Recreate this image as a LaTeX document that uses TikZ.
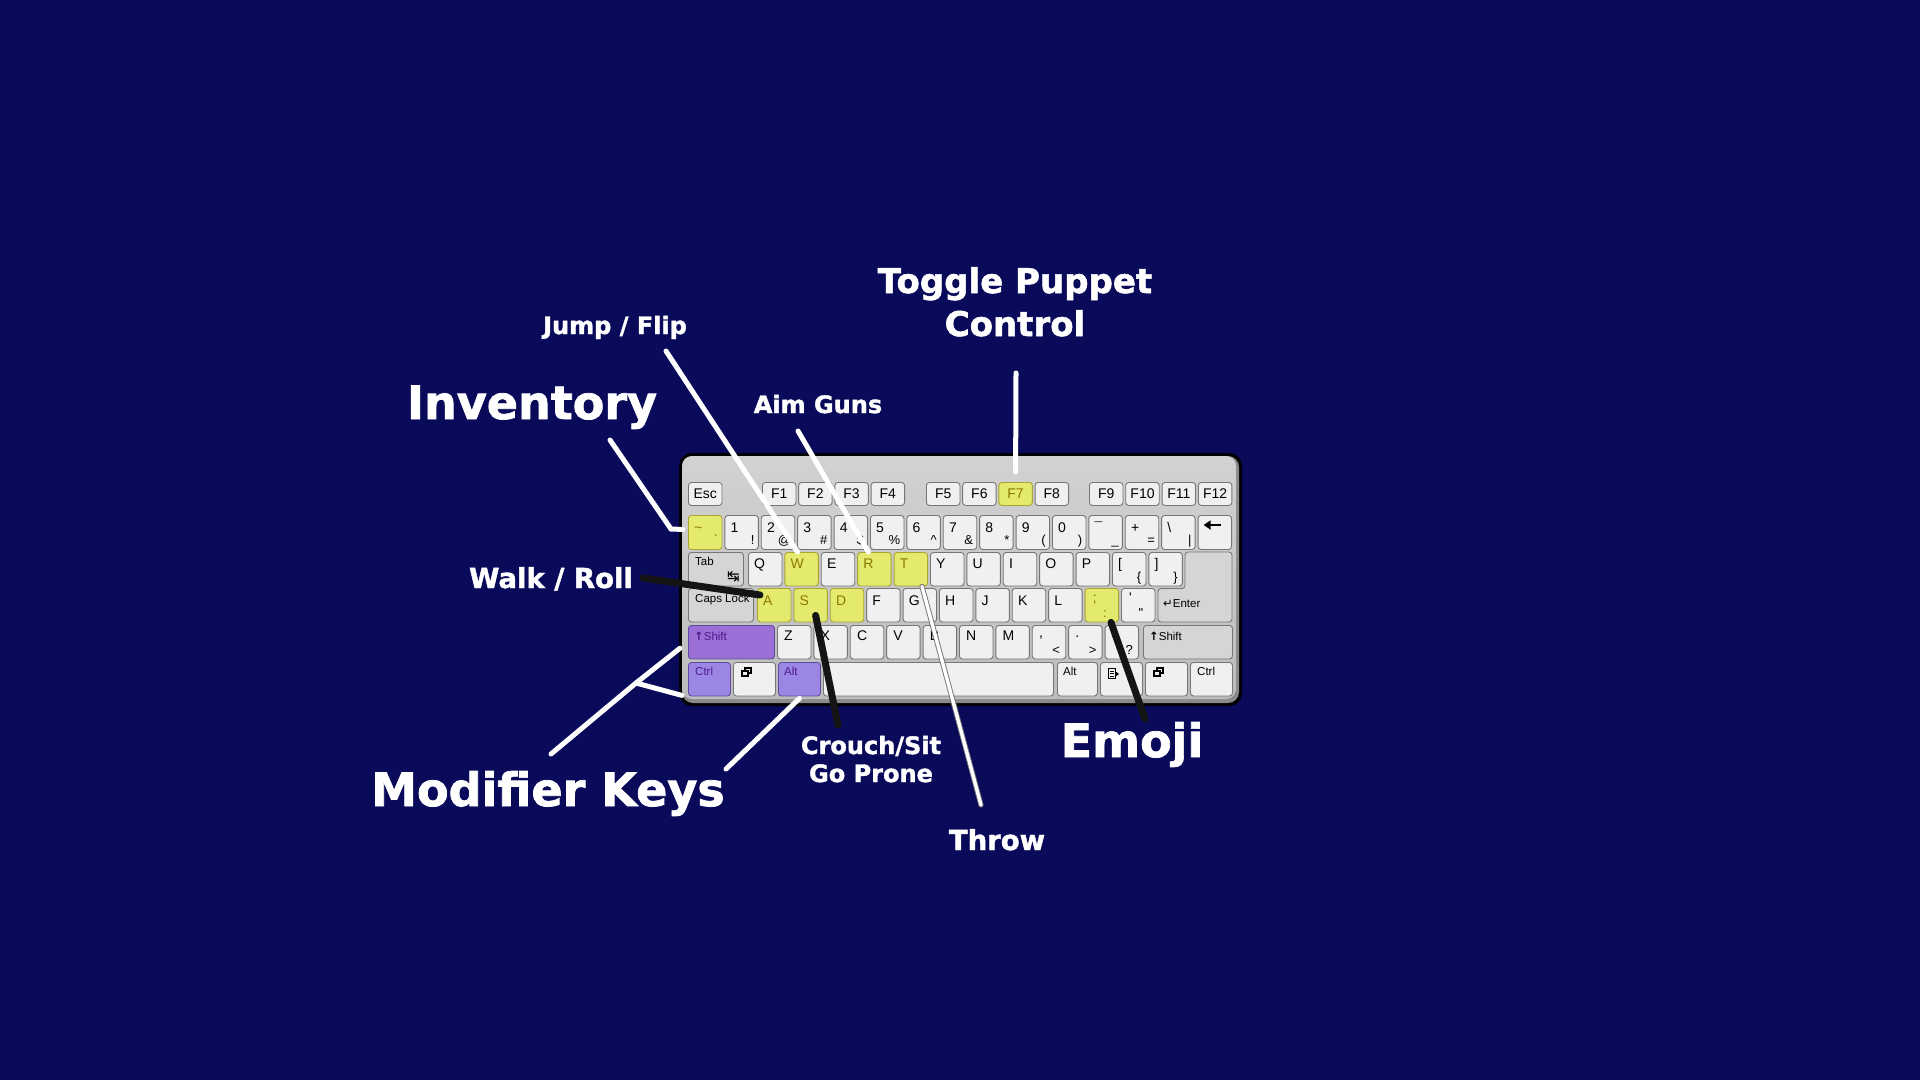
\documentclass[tikz,border=0pt]{standalone}
\usepackage{fontspec}
\setmainfont{Liberation Sans}
\newfontfamily\callfont{DejaVu Sans}[BoldFeatures={FakeBold=1.6}]
\newfontfamily\symfont{DejaVu Sans}
\usetikzlibrary{positioning,calc,arrows.meta}
\definecolor{navy}{HTML}{0A0A5A}
\definecolor{bodytop}{HTML}{D2D2D2}
\definecolor{bodybot}{HTML}{BCBCBC}
\definecolor{rimgray}{HTML}{8A8A8A}
\definecolor{keyface}{HTML}{F0F0F0}
\definecolor{keyedge}{HTML}{767676}
\definecolor{grayface}{HTML}{D5D5D5}
\definecolor{hlfill}{HTML}{E4EA6E}
\definecolor{hledge}{HTML}{ABA433}
\definecolor{hltext}{HTML}{8A7800}
\definecolor{modfill}{HTML}{9C86E4}
\definecolor{shiftfill}{HTML}{9A70D6}
\definecolor{modedge}{HTML}{5E4A9E}
\definecolor{modtext}{HTML}{4E1A8E}
\newcommand{\cfs}[1]{\fontsize{#1}{#1}\selectfont}
\newcommand{\winicon}[1]{%
  \draw[line width=1.1pt] ([shift={(12pt,-6pt)}]#1.north west) rectangle ([shift={(18pt,-11pt)}]#1.north west);
  \draw[line width=1.1pt,fill=keyface] ([shift={(9pt,-9pt)}]#1.north west) rectangle ([shift={(15pt,-14pt)}]#1.north west);}

\begin{document}
\begin{tikzpicture}[x=1pt,y=-1pt,
    every node/.style={inner sep=0pt},
    keybox/.style={draw=keyedge,fill=keyface,line width=0.9pt,rounded corners=3pt,anchor=north west,
      minimum width=33.5pt,minimum height=33.5pt,text=black,font=\cfs{14}},
    khl/.style={keybox,fill=hlfill,draw=hledge,text=hltext},
    kmod/.style={keybox,fill=modfill,draw=modedge,text=modtext},
    kgray/.style={keybox,fill=grayface},
    keybox-t/.style={text=black},
    khl-t/.style={text=hltext},
    kmod-t/.style={text=modtext},
    ktop/.style={anchor=base west,font=\cfs{14}},
    ksub/.style={anchor=base east,font=\cfs{13}},
    kname/.style={anchor=base west,font=\cfs{11.5}},
    callbig/.style={anchor=base,text=white,font=\callfont\bfseries\cfs{46}},
    callmid/.style={anchor=base,text=white,font=\callfont\bfseries\cfs{34}},
    callwalk/.style={anchor=base,text=white,font=\callfont\bfseries\cfs{27.5}},
    callsmall/.style={anchor=base,text=white,font=\callfont\bfseries\cfs{24}},
    callw/.style={draw=white,line width=5pt,line cap=round},
    callb/.style={draw=black!92,line width=7pt,line cap=round},
    callt/.style={draw=black!55,double=white,double distance=3.4pt,line width=0.9pt,line cap=round},
  ]
  \fill[navy] (0,0) rectangle (1920,1080);
  \useasboundingbox (0,0) rectangle (1920,1080);

  % keyboard body
  \fill[black,rounded corners=13pt] (679,453) rectangle (1242,706);
  \fill[rimgray,rounded corners=11pt] (682,456) rectangle (1239,703);
  \shade[top color=bodytop,bottom color=bodybot,rounded corners=10pt] (682,456) rectangle (1236,699);

  % function row
  \node[keybox,minimum height=23pt] (esc) at (688,482) {Esc};
  \foreach \kl [count=\i from 0] in {1,...,4}
    \node[keybox,minimum height=23pt] (f\kl) at (762+\i*36.2,482) {F\kl};
  \foreach \kl/\kst [count=\i from 0] in {5/keybox,6/keybox,7/khl,8/keybox}
    \node[\kst,minimum height=23pt] (f\kl) at (926+\i*36.2,482) {F\kl};
  \foreach \kl [count=\i from 0] in {9,...,12}
    \node[keybox,minimum height=23pt] (f\kl) at (1089+\i*36.3,482) {F\kl};

  % number row
  \foreach \kl/\ks/\kst [count=\i from 0] in {{\textasciitilde}/{\textasciigrave}/khl,1/!/keybox,2/@/keybox,
      3/\#/keybox,4/\$/keybox,5/\%/keybox,6/\textasciicircum/keybox,7/\&/keybox,8/*/keybox,9/(/keybox,
      0/)/keybox,{\textasciimacron}/\_/keybox,+/=/keybox,\textbackslash/\textbar/keybox}{
    \node[\kst,minimum height=34pt] (n\i) at (688+\i*36.4,515) {};
    \node[ktop,\kst-t] at ([shift={(6pt,-17pt)}]n\i.north west) {\kl};
    \node[ksub,\kst-t] at ([shift={(-4pt,5pt)}]n\i.south east) {\ks};
  }
  \node[keybox,minimum height=34pt] (bksp) at (1197.6,515) {};
  \draw[line width=2.6pt,-{Triangle[length=7pt,width=9pt]}] ([shift={(23pt,-10pt)}]bksp.north west) -- ([shift={(6pt,-10pt)}]bksp.north west);

  % tab row
  \node[kgray,minimum width=55pt] (tab) at (688,552) {};
  \node[kname] (tabtxt) at ([shift={(7pt,-13pt)}]tab.north west) {Tab};
  \node[anchor=base east,font=\symfont\cfs{15}] (tabicon) at ([shift={(-4pt,5pt)}]tab.south east) {↹};
  \foreach \kl/\kst [count=\i from 0] in {Q/keybox,W/khl,E/keybox,R/khl,T/khl,Y/keybox,U/keybox,I/keybox,O/keybox,P/keybox}{
    \node[\kst] (q\i) at (748+\i*36.4,552) {};
    \node[ktop,\kst-t] at ([shift={(6pt,-16pt)}]q\i.north west) {\kl};
  }
  \foreach \kl/\ks [count=\i from 10] in {{[}/{\{},{]}/{\}}}{
    \node[keybox] (q\i) at (748+\i*36.4,552) {};
    \node[ktop] at ([shift={(6pt,-16pt)}]q\i.north west) {\kl};
    \node[ksub] at ([shift={(-5pt,5pt)}]q\i.south east) {\ks};
  }
  \draw[draw=keyedge,fill=grayface,line width=0.9pt,rounded corners=3pt]
    (1185,552) -- (1232,552) -- (1232,622) -- (1158,622) -- (1158,588.5) -- (1185,588.5) -- cycle;

  % caps row
  \node[kgray,minimum width=65pt] (caps) at (688,588) {};
  \node[kname] (capstxt) at ([shift={(7pt,-14pt)}]caps.north west) {Caps Lock};
  \foreach \kl/\kst [count=\i from 0] in {A/khl,S/khl,D/khl,F/keybox,G/keybox,H/keybox,J/keybox,K/keybox,L/keybox}{
    \node[\kst] (a\i) at (757+\i*36.4,588) {};
    \node[ktop,\kst-t] at ([shift={(6pt,-17pt)}]a\i.north west) {\kl};
  }
  \foreach \kl/\ks/\kst [count=\i from 9] in {{;}/{:}/khl,{\textquotesingle}/{\textquotedbl}/keybox}{
    \node[\kst] (a\i) at (757+\i*36.4,588) {};
    \node[ktop,\kst-t] at ([shift={(8pt,-14pt)}]a\i.north west) {\kl};
    \node[ksub,\kst-t] at ([shift={(-12pt,5pt)}]a\i.south east) {\ks};
  }
  \node[kname] (entertxt) at (1163,607) {{\symfont ↵}Enter};

  % shift row
  \node[kmod,fill=shiftfill,minimum width=86pt] (lshift) at (688,625) {};
  \node[kname,kmod-t] (lshifttxt) at ([shift={(6pt,-15pt)}]lshift.north west) {{\symfont\bfseries ↑}Shift};
  \foreach \kl [count=\i from 0] in {Z,X,C,V,B,N,M}{
    \node[keybox] (z\i) at (777+\i*36.4,625) {};
    \node[ktop] at ([shift={(7pt,-15pt)}]z\i.north west) {\kl};
  }
  \foreach \kl/\ks [count=\i from 7] in {{,}/{<},{.}/{>},{/}/{?}}{
    \node[keybox] (z\i) at (777+\i*36.4,625) {};
    \node[ktop] at ([shift={(7pt,-12pt)}]z\i.north west) {\kl};
    \node[ksub] at ([shift={(-6pt,5pt)}]z\i.south east) {\ks};
  }
  \node[kgray,minimum width=89pt] (rshift) at (1143,625) {};
  \node[kname] (rshifttxt) at ([shift={(6pt,-15pt)}]rshift.north west) {{\symfont\bfseries ↑}Shift};

  % bottom row
  \node[kmod,minimum width=42pt] (lctrl) at (688,662) {};
  \node[kname,kmod-t] (lctrltxt) at ([shift={(7pt,-13pt)}]lctrl.north west) {Ctrl};
  \node[keybox,minimum width=42pt] (lwin) at (733,662) {};
  \winicon{lwin}
  \node[kmod,minimum width=42pt] (lalt) at (778,662) {};
  \node[kname,kmod-t] (lalttxt) at ([shift={(6pt,-13pt)}]lalt.north west) {Alt};
  \node[keybox,minimum width=230pt] (space) at (823,662) {};
  \node[keybox,minimum width=40pt] (ralt) at (1057,662) {};
  \node[kname] (ralttxt) at ([shift={(6pt,-13pt)}]ralt.north west) {Alt};
  \node[keybox,minimum width=42pt] (menu) at (1100,662) {};
  \draw[line width=0.9pt] ([shift={(8pt,-6pt)}]menu.north west) rectangle ([shift={(15pt,-16pt)}]menu.north west);
  \foreach \k in {9,11.5,14}
    \draw[line width=0.8pt] ([shift={(9.5pt,-\k pt)}]menu.north west) -- ([shift={(13.5pt,-\k pt)}]menu.north west);
  \fill ([shift={(15pt,-9pt)}]menu.north west) -- ([shift={(19pt,-12pt)}]menu.north west) -- ([shift={(15pt,-15pt)}]menu.north west) -- cycle;
  \node[keybox,minimum width=42pt] (rwin) at (1145,662) {};
  \winicon{rwin}
  \node[keybox,minimum width=42pt] (rctrl) at (1190,662) {};
  \node[kname] (rctrltxt) at ([shift={(7pt,-13pt)}]rctrl.north west) {Ctrl};

  % callouts
  \node[callbig] (inv) at (532,419) {Inventory};
  \node[callsmall] (jump) at (615,334) {Jump / Flip};
  \node[callsmall] (aim) at (818,413) {Aim Guns};
  \node[callmid] (toggle) at (1015,293) {Toggle Puppet};
  \node[callmid] (control) at ([yshift=-43pt]toggle.base) {Control};
  \node[callwalk] (walk) at (551,588) {Walk / Roll};
  \node[callsmall] (crouch) at (871,754) {Crouch/Sit};
  \node[callsmall] (prone) at ([yshift=-28pt]crouch.base) {Go Prone};
  \node[callwalk] (throw) at (997,850) {Throw};
  \node[callbig] (emoji) at (1132,757) {Emoji};
  \node[callbig] (modkeys) at (548,806) {Modifier Keys};

  \coordinate (invfoot) at (610,440);
  \coordinate (invbend) at (671,529);
  \coordinate (jumpfoot) at (666,351);
  \coordinate (aimfoot) at (798,431);
  \coordinate (togglefoot) at (1016,373);
  \coordinate (walkfoot) at (643,578);
  \coordinate (crouchfoot) at (838,725);
  \coordinate (throwfoot) at (981,805);
  \coordinate (emojifoot) at (1145,719);
  \coordinate (modfoot) at (551,754);
  \coordinate (modfork) at (636,683);
  \coordinate (altfoot) at (726,769);

  \draw[callw] (invfoot) -- (invbend) -- ([shift={(-5pt,3pt)}]n0.west);
  \draw[callw] (jumpfoot) -- ([xshift=-4pt]q1.north);
  \draw[callw] (aimfoot) -- ([xshift=-6pt]q3.north);
  \draw[callw] (togglefoot) -- ([yshift=10pt]f7.north);
  \draw[callb] (walkfoot) -- ([shift={(3pt,-7pt)}]a0.north west);
  \draw[callb] ([shift={(5pt,7pt)}]a1.south) -- (crouchfoot);
  \draw[callt] ([xshift=-6pt]q4.south east) -- (throwfoot);
  \draw[callb] ([xshift=-8pt]a9.south east) -- (emojifoot);
  \draw[callw] (modfoot) -- (modfork) -- ([shift={(-8pt,-6pt)}]lshift.west);
  \draw[callw] (modfork) -- ([shift={(-6pt,1pt)}]lctrl.south west);
  \draw[callw] (altfoot) -- ([yshift=-2pt]lalt.south);
\end{tikzpicture}
\end{document}
